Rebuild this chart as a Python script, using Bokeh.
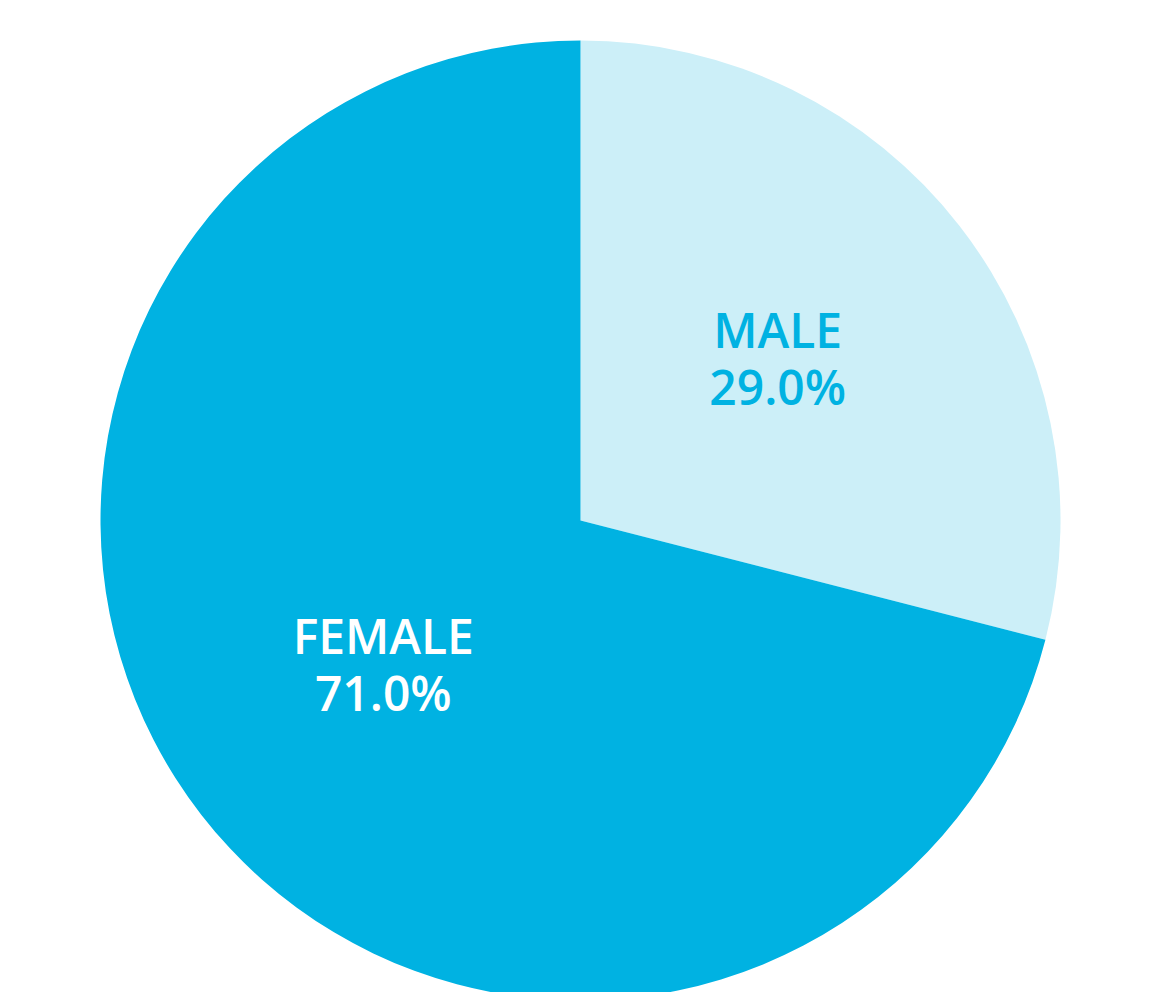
import math
from bokeh.plotting import figure
from bokeh.models import Range1d, ColumnDataSource
from bokeh.core.properties import value
from bokeh.embed import file_html
from bokeh.resources import INLINE

# data
categories = ["MALE", "FEMALE"]
shares = [29.0, 71.0]
fill_colors = ["#CCEFF8", "#00B2E2"]
label_colors = ["#00B2E2", "#FFFFFF"]

W, H = 1152, 992
CX, CY, R = 580, 472, 480

p = figure(width=W, height=H, output_backend="svg", toolbar_location=None,
           x_range=Range1d(0, W), y_range=Range1d(0, H), min_border=0,
           outline_line_color=None, background_fill_color="white")
p.axis.visible = False
p.grid.visible = False

total = sum(shares)
starts, ends, mids = [], [], []
a = math.pi / 2
for s in shares:
    span = 2 * math.pi * s / total
    starts.append(a)
    ends.append(a - span)
    mids.append(a - span / 2)
    a -= span

src = ColumnDataSource(dict(x=[CX] * len(shares), y=[CY] * len(shares),
                            start=starts, end=ends, color=fill_colors))
p.wedge(x="x", y="y", radius=R, start_angle="end", end_angle="start",
        fill_color="color", line_color=None, source=src)

lr = 0.52 * R
lx = [CX + lr * math.cos(m) for m in mids]
ly = [CY + lr * math.sin(m) for m in mids]
names = categories
vals = [f"{s:.1f}%" for s in shares]

lab = ColumnDataSource(dict(x=lx, y1=[y + 38 for y in ly], y2=[y - 19 for y in ly],
                            name=names, val=vals, color=label_colors))
for col in ("y1", "y2"):
    p.text(x="x", y=col, text="name" if col == "y1" else "val", source=lab,
           text_color="color", text_font=value("Open Sans SemiBold"),
           text_font_size="48px", text_align="center",
           text_baseline="alphabetic")

open("out.html", "w").write(file_html(p, INLINE))
